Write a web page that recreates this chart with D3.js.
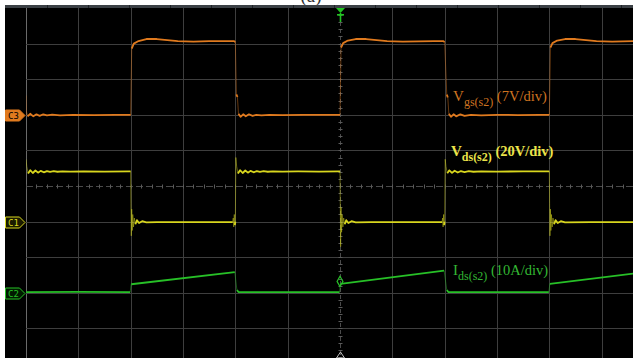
<!DOCTYPE html>
<html><head><meta charset="utf-8">
<script src="https://cdn.jsdelivr.net/npm/d3@7"></script>
<style>html,body{margin:0;padding:0;background:#fff;overflow:hidden}svg{display:block}</style>
</head><body><svg id="c" width="633" height="358"></svg>
<script>
// ---------- data (time in divisions, values in physical units) ----------
const xTickDivs = [0,1,2,3,4,5,6,7,8,9,10,11,12];
const yTickDivs = [-5,-4,-3,-2,-1,0,1,2,3,4,5];
const channelNames = ["C3","C1","C2"];
const channelColors = ["#e07a1e","#d8d61e","#27c027"];
const voltsPerDiv = [7, 20, 10];
const channelOffsetDiv = [2, -1, -3];
const labelMain = ["V", "V", "I"];
const labelSub = ["gs(s2)", "ds(s2)", "ds(s2)"];
const labelScale = [" (7V/div)", " (20V/div)", " (10A/div)"];

const vgsTime = [0,0.005,0.03,0.08,0.14,0.2,0.26,0.33,0.4,0.5,0.65,0.9,1.3,1.7,1.99,
  2.0,2.02,2.06,2.15,2.3,2.5,2.7,2.9,3.2,3.5,3.8,3.97,
  4.0,4.02,4.04,4.06,4.1,4.15,4.2,4.26,4.33,4.4,4.5,4.65,4.9,5.3,5.7,5.99,
  6.0,6.02,6.06,6.15,6.3,6.5,6.7,6.9,7.2,7.5,7.8,7.97,
  8.0,8.04,8.06,8.08,8.12,8.17,8.22,8.3,8.38,8.5,8.7,9.0,9.4,9.8,9.99,
  10.0,10.02,10.06,10.15,10.3,10.5,10.7,10.9,11.2,11.62];
const vgsValue = [3.8,0.8,-0.3,0.2,-0.3,0.1,-0.2,0.1,-0.1,0.05,-0.1,0,-0.05,0,0,
  0,13.0,14.0,14.5,14.9,14.9,14.7,14.5,14.4,14.5,14.5,14.5,
  14.3,4.0,3.5,0.2,-0.4,0.1,-0.3,0.1,-0.2,0,-0.1,0,-0.05,0,0,0,
  0,13.2,14.1,14.6,14.9,14.9,14.7,14.5,14.4,14.45,14.5,14.5,
  14.3,4.0,3.4,0.2,-0.4,0.1,-0.3,0.1,-0.2,0,-0.1,0,-0.05,0,0,
  0,13.2,14.1,14.6,14.9,14.9,14.7,14.5,14.4,14.5];

const vdsTime = [0,0.015,0.04,0.08,0.13,0.18,0.23,0.28,0.34,0.4,0.46,0.53,0.6,0.7,0.85,1.1,1.5,1.99,
  2.0,2.005,2.012,2.02,2.03,2.04,2.055,2.07,2.09,2.12,2.16,2.22,2.3,2.5,3.0,3.5,3.95,
  3.96,3.97,3.98,3.99,4.0,4.01,4.025,4.05,4.09,4.14,4.19,4.24,4.29,4.35,4.41,4.47,4.54,4.62,4.72,4.9,5.2,5.6,5.99,
  6.0,6.005,6.012,6.02,6.03,6.04,6.055,6.07,6.09,6.12,6.16,6.22,6.3,6.6,7.2,7.95,
  7.96,7.97,7.98,7.99,8.0,8.01,8.025,8.05,8.09,8.14,8.19,8.25,8.31,8.38,8.46,8.55,8.7,9.0,9.5,9.99,
  10.0,10.005,10.012,10.02,10.03,10.04,10.055,10.07,10.09,10.12,10.16,10.22,10.3,10.8,11.62];
const vdsValue = [35,31,27.0,28.9,27.3,28.7,27.5,28.5,27.7,28.4,27.9,28.3,28.0,28.2,28.1,28.2,28.1,28.2,
  28.2,10,-8,7,-5,4,-3,2,-1.5,0.8,-0.8,0.2,-0.4,-0.3,-0.3,-0.3,-0.3,
  2,-3,4,-2,0,36,31,27.0,28.9,27.3,28.7,27.5,28.5,27.7,28.4,27.9,28.3,28.0,28.2,28.1,28.2,28.1,28.2,
  28.2,12,-14,8,-6,4,-3,2,-1.5,0.8,-0.8,0.2,-0.4,-0.3,-0.3,-0.3,
  2,-3,4,-2,0,35,31,27.2,28.8,27.4,28.6,27.6,28.4,27.8,28.3,28.0,28.2,28.1,28.2,28.2,
  28.2,10,-8,7,-5,4,-3,2,-1.5,0.8,-0.8,0.2,-0.4,-0.3,-0.3];

const idsTime = [0,1.0,1.99,2.01,3.99,4.03,4.06,5.99,6.01,7.99,8.04,8.07,9.99,10.01,11.62];
const idsValue = [0.2,0.25,0.2,2.4,5.8,0.8,0.2,0.2,2.5,6.2,0.8,0.2,0.2,2.5,5.4];
const markerTime = [6.0];
const markerValue = [3.2];

// ---------- drawing ----------
const svg = d3.select("#c");
const W = 633, H = 358;
const x = d3.scaleLinear().domain([0, 12]).range([26, 654]);
const y = d3.scaleLinear().domain([5, -5]).range([8, 364]);

svg.append("rect").attr("width", W).attr("height", H).attr("fill", "#fff");
svg.append("text").attr("x", 311).attr("y", 2).attr("text-anchor", "middle")
  .attr("font-family", "Liberation Serif, serif").attr("font-size", 19).attr("fill", "#333").text("(a)");
svg.append("rect").attr("x", 5).attr("y", 5).attr("width", W - 5).attr("height", H - 5).attr("fill", "#000");
// top toolbar strip
svg.append("rect").attr("x", 5).attr("y", 5).attr("width", W - 5).attr("height", 3).attr("fill", "#3b4045");
[47, 88, 129, 170, 211, 252, 293, 334, 375, 416, 457, 498, 539, 580, 621].forEach(px => {
  svg.append("rect").attr("x", px).attr("y", 5).attr("width", 1).attr("height", 3).attr("fill", "#1e2226");
});

const plot = svg.append("g");
plot.append("clipPath").attr("id", "clip").append("rect")
  .attr("x", 26).attr("y", 8).attr("width", W - 26).attr("height", H - 8);

// grid via axes
const gx = plot.append("g").attr("transform", `translate(0,${y(-5)})`)
  .call(d3.axisTop(x).tickValues(xTickDivs.filter(d => d !== 6)).tickSize(y(-5) - y(5)).tickFormat(""));
gx.select(".domain").remove();
gx.selectAll("line").attr("stroke", d => d === 0 ? "#6a6a6a" : "#3e3e3e").attr("stroke-width", 1);
gx.selectAll(".tick").attr("transform", d => `translate(${Math.round(x(d)) + 0.5},0)`);

const gy = plot.append("g").attr("transform", `translate(${x(0)},0)`)
  .call(d3.axisRight(y).tickValues(yTickDivs.filter(d => d !== 0 && Math.abs(d) < 5)).tickSize(W - x(0)).tickFormat(""));
gy.select(".domain").remove();
gy.selectAll("line").attr("stroke", "#3e3e3e").attr("stroke-width", 1);
gy.selectAll(".tick").attr("transform", d => `translate(0,${Math.round(y(d)) + 0.5})`);

// center lines (dashed with minor ticks)
const cy = Math.round(y(0)) + 0.5, cx = Math.round(x(6)) + 0.5;
plot.append("line").attr("x1", x(0)).attr("x2", W).attr("y1", cy).attr("y2", cy)
  .attr("stroke", "#4a4a4a").attr("stroke-dasharray", "7,3");
plot.append("line").attr("x1", cx).attr("x2", cx).attr("y1", 22).attr("y2", H)
  .attr("stroke", "#4a4a4a").attr("stroke-dasharray", "4,3");
const minor = d3.range(0, 12.01, 0.2);
plot.selectAll(".mx").data(minor).join("line")
  .attr("x1", d => Math.round(x(d)) + 0.5).attr("x2", d => Math.round(x(d)) + 0.5)
  .attr("y1", cy - 2).attr("y2", cy + 2).attr("stroke", "#5a5a5a");
const minorY = d3.range(-5, 5.01, 0.2);
plot.selectAll(".my").data(minorY).join("line")
  .attr("y1", d => Math.round(y(d)) + 0.5).attr("y2", d => Math.round(y(d)) + 0.5)
  .attr("x1", cx - 2).attr("x2", cx + 2).attr("stroke", "#5a5a5a");

// traces: flat parts bright, fast edges faint (like a real scope screen)
const traces = [
  {t: vgsTime, v: vgsValue, ch: 0},
  {t: vdsTime, v: vdsValue, ch: 1},
  {t: idsTime, v: idsValue, ch: 2}
];
const tg = plot.append("g").attr("clip-path", "url(#clip)");
traces.forEach(tr => {
  const pts = tr.t.map((t, i) => [x(t), y(channelOffsetDiv[tr.ch] + tr.v[i] / voltsPerDiv[tr.ch])]);
  const segs = d3.pairs(pts);
  const steep = s => Math.abs(s[1][1] - s[0][1]) > 3 * Math.abs(s[1][0] - s[0][0]) && Math.abs(s[1][1] - s[0][1]) > 4;
  // faint edges
  tg.append("g").selectAll("line").data(segs.filter(steep)).join("line")
    .attr("x1", s => s[0][0]).attr("y1", s => s[0][1]).attr("x2", s => s[1][0]).attr("y2", s => s[1][1])
    .attr("stroke", channelColors[tr.ch]).attr("stroke-width", 1).attr("stroke-opacity", 0.45);
  // bright flat parts: group consecutive non-steep segments into paths
  const runs = [];
  let cur = null;
  segs.forEach(s => {
    if (steep(s)) { cur = null; return; }
    if (!cur) { cur = [s[0]]; runs.push(cur); }
    cur.push(s[1]);
  });
  tg.append("g").selectAll("path").data(runs).join("path")
    .attr("d", d3.line()).attr("fill", "none")
    .attr("stroke", channelColors[tr.ch]).attr("stroke-width", 1.8).attr("stroke-linejoin", "round");
});

// diamond marker on Ids
tg.selectAll(".dm").data(markerTime).join("path")
  .attr("d", d3.symbol(d3.symbolDiamond, 30))
  .attr("transform", (d, i) => `translate(${x(d)},${y(channelOffsetDiv[2] + markerValue[i] / voltsPerDiv[2])})`)
  .attr("fill", "none").attr("stroke", channelColors[2]).attr("stroke-width", 1.2);

// channel markers on left
const markerFill = ["#e07a1e", "#1a1a00", "#001a00"];
channelNames.forEach((name, i) => {
  const yy = Math.round(y(channelOffsetDiv[i])) + 0.5;
  const filled = i === 0;
  svg.append("path")
    .attr("d", `M5.5,${yy - 5.5}H19.5L25,${yy}L19.5,${yy + 5.5}H5.5Z`)
    .attr("fill", markerFill[i])
    .attr("stroke", channelColors[i]).attr("stroke-width", 1);
  svg.append("text").attr("x", 8).attr("y", yy + 3.5)
    .attr("font-family", "DejaVu Sans Mono, monospace").attr("font-size", 9)
    .attr("fill", filled ? "#000" : channelColors[i]).text(name);
});

// trigger marker
svg.append("path").attr("d", `M${cx - 4.5},8L${cx + 4.5},8L${cx},13Z`).attr("fill", "#22c322");
svg.append("rect").attr("x", cx - 3.5).attr("y", 14).attr("width", 7).attr("height", 1.6).attr("fill", "#22c322");
svg.append("rect").attr("x", cx - 0.8).attr("y", 13).attr("width", 1.6).attr("height", 9).attr("fill", "#22c322");
// bottom marker
svg.append("path").attr("d", `M${cx},352L${cx + 4},358L${cx - 4},358Z`)
  .attr("fill", "none").attr("stroke", "#bbbbbb").attr("stroke-width", 1);

// labels
const labelPos = [[8.16, 2.4], [8.12, 0.85], [8.16, -2.5]];
const labelColors = ["#cf7420", "#ece44a", "#33b833"];
const labelWeight = ["normal", "bold", "normal"];
labelPos.forEach((p, i) => {
  const t = svg.append("text").attr("x", x(p[0])).attr("y", y(p[1]))
    .attr("font-family", "Liberation Serif, Times New Roman, serif")
    .attr("font-size", 15).attr("font-weight", labelWeight[i]).attr("fill", labelColors[i]);
  t.append("tspan").text(labelMain[i]);
  t.append("tspan").attr("font-size", 12).attr("dy", 5).text(labelSub[i]);
  t.append("tspan").attr("dy", -5).attr("font-size", 14.5).text(labelScale[i]);
});
</script></body></html>
